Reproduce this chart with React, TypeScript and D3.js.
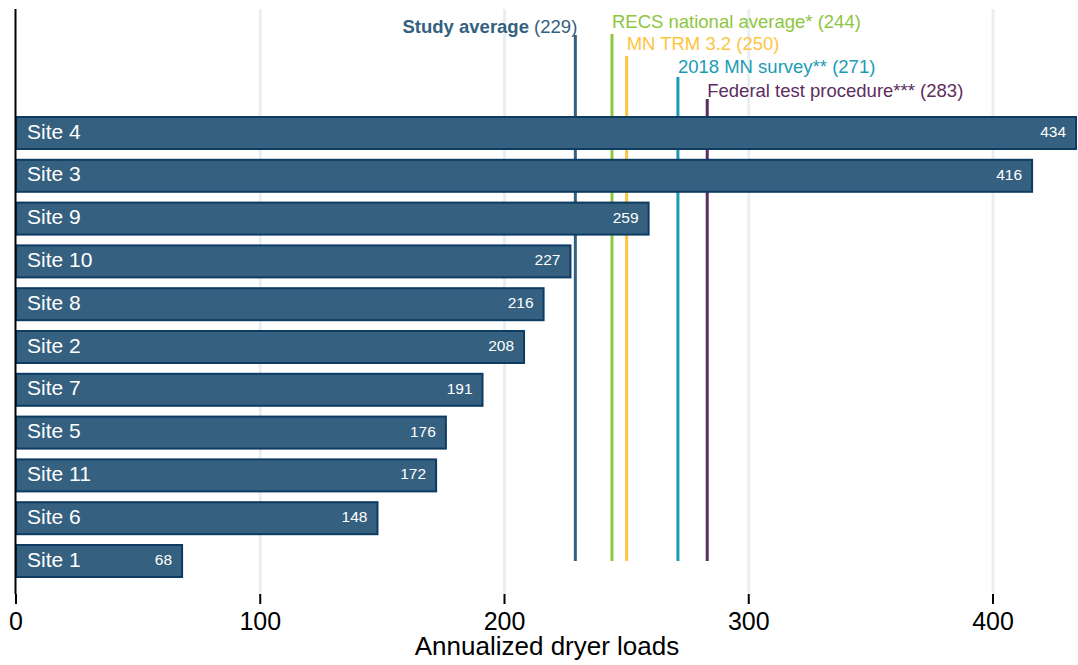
import React from "react";
import * as d3 from "d3";

const sites = ["Site 4", "Site 3", "Site 9", "Site 10", "Site 8", "Site 2", "Site 7", "Site 5", "Site 11", "Site 6", "Site 1"];
const loads = [434, 416, 259, 227, 216, 208, 191, 176, 172, 148, 68];
const xTicks = [0, 100, 200, 300, 400];

const refNames = ["Study average", "RECS national average*", "MN TRM 3.2", "2018 MN survey**", "Federal test procedure***"];
const refValues = [229, 244, 250, 271, 283];
const refColors = ["#34607f", "#8dc63f", "#fdc543", "#1a9bb5", "#5c2d5e"];

const W = 1078;
const H = 665;
const FONT = "'Liberation Sans', Arial, Helvetica, sans-serif";

export default function App() {
  const x = d3.scaleLinear().domain([0, 400]).range([16, 993]);
  const y = d3.scalePoint<string>().domain(sites).range([133, 561]);
  const barH = 32;
  const plotTop = 9;
  const plotBottom = 594;

  const labelBaselines = [33, 28, 50, 73, 97];
  const lineTops = [35, 34, 56, 77, 99];

  return (
    <svg width={W} height={H} style={{ position: "absolute", left: 0, top: 0, background: "#fff" }} fontFamily={FONT}>
      {/* gridlines */}
      {xTicks.filter((t) => t > 0).map((t) => (
        <line key={"g" + t} x1={x(t)} x2={x(t)} y1={plotTop} y2={plotBottom} stroke="#e8eff2" strokeWidth={3} />
      ))}
      {/* reference lines (behind bars) */}
      {refValues.map((v, i) => (
        <g key={refNames[i]}>
          <line x1={x(v)} x2={x(v)} y1={lineTops[i]} y2={561} stroke={refColors[i]} strokeWidth={3} />
          {i === 0 ? (
            <text x={x(v) + 2} y={labelBaselines[i]} fontSize={18.5} fill={refColors[i]} textAnchor="end">
              <tspan fontWeight="bold">{refNames[i]}</tspan>
              <tspan> ({v})</tspan>
            </text>
          ) : (
            <text x={x(v)} y={labelBaselines[i]} fontSize={18.5} fill={refColors[i]}>
              {refNames[i]} ({v})
            </text>
          )}
        </g>
      ))}
      {/* bars */}
      {sites.map((s, i) => (
        <g key={s}>
          <rect
            x={x(0)}
            y={(y(s) as number) - barH / 2}
            width={x(loads[i]) - x(0)}
            height={barH}
            fill="#35607f"
            stroke="#0e3b62"
            strokeWidth={2}
          />
          <text x={27} y={(y(s) as number) + 5.5} fill="#fff" fontSize={21}>
            {s}
          </text>
          <text x={x(loads[i]) - 10} y={(y(s) as number) + 4} fill="#fff" fontSize={15.5} textAnchor="end">
            {loads[i]}
          </text>
        </g>
      ))}
      {/* left axis */}
      <line x1={15.5} x2={15.5} y1={plotTop} y2={plotBottom} stroke="#000" strokeWidth={2} />
      {/* x ticks */}
      {xTicks.map((t) => (
        <g key={"t" + t}>
          <line x1={x(t)} x2={x(t)} y1={plotBottom} y2={604} stroke="#000" strokeWidth={2} />
          <text x={x(t)} y={630} fontSize={25} textAnchor="middle" fill="#000">
            {t}
          </text>
        </g>
      ))}
      <text x={547} y={655} fontSize={26} textAnchor="middle" fill="#000">
        Annualized dryer loads
      </text>
    </svg>
  );
}
